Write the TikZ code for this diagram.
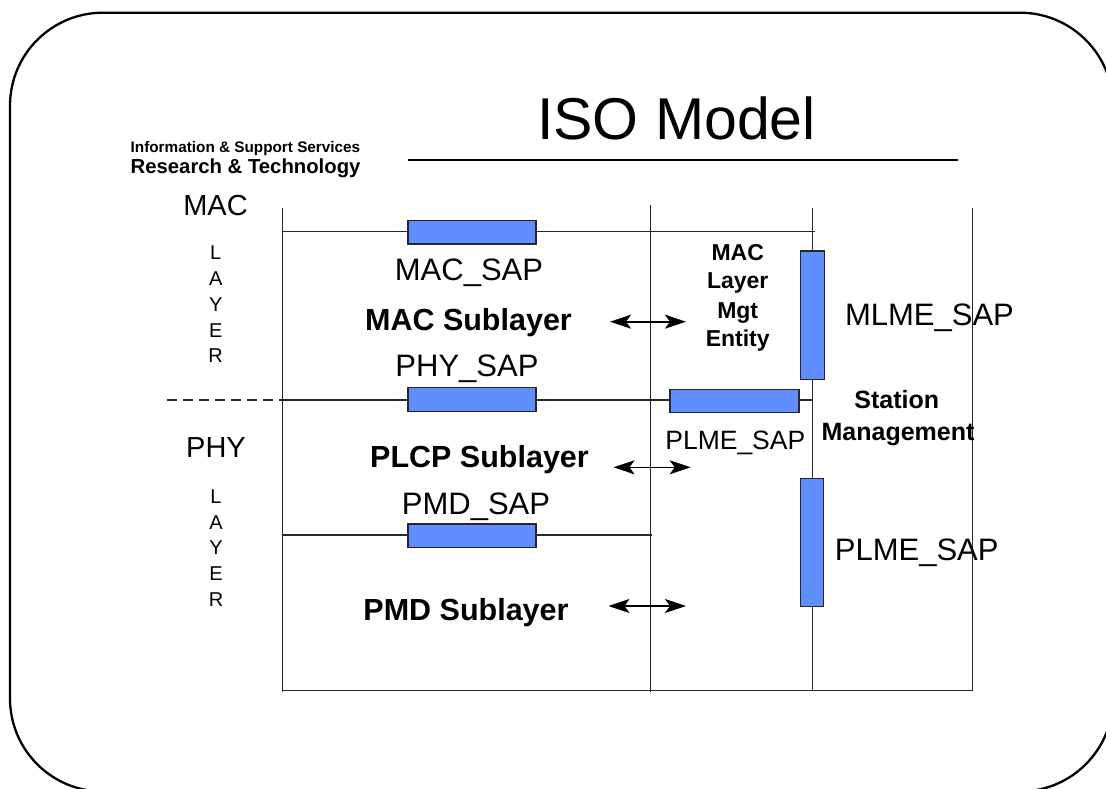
\documentclass[tikz,border=0pt]{standalone}
\usepackage{fontspec}
\setmainfont{Liberation Sans}
\usetikzlibrary{arrows.meta}
\definecolor{sapblue}{RGB}{97,142,255}
\definecolor{gridcol}{RGB}{40,40,40}
\begin{document}
\begin{tikzpicture}[x=1pt,y=-1pt,
  grid/.style={draw=gridcol,line width=1.1pt},
  sapbox/.style={draw=black!85,fill=sapblue,line width=1.2pt,inner sep=0pt},
  hsap/.style={sapbox,minimum width=128pt,minimum height=23.3pt},
  vsap/.style={sapbox,minimum width=23.5pt,minimum height=128.3pt},
  txt/.style={inner sep=0pt,anchor=base},
  lbl/.style={txt,font=\fontsize{31}{37}\selectfont},
  sublbl/.style={txt,font=\bfseries\fontsize{30.5}{36}\selectfont},
  layerlbl/.style={txt,font=\fontsize{29}{34}\selectfont},
  letter/.style={txt,font=\fontsize{20}{24}\selectfont},
  mgtlbl/.style={txt,font=\bfseries\fontsize{23}{28}\selectfont},
  stlbl/.style={txt,font=\bfseries\fontsize{25}{30}\selectfont},
  biarrow/.style={draw=black,line width=1.6pt,
    {Stealth[length=21pt,width=14pt,inset=5pt]}-{Stealth[length=21pt,width=14pt,inset=5pt]}}
]
\useasboundingbox (0,0) rectangle (1106,789);
\clip (0,0) rectangle (1106,789);

% outer frame
\draw[line width=2.3pt, rounded corners=93pt] (10,12.7) rectangle (1113,791.5);

% header
\node[txt, font=\fontsize{59}{70}\selectfont] (title) at (676.5,140) {ISO Model};
\draw[line width=2.2pt] (408,160) -- (958,160);
\node[txt, anchor=base west, font=\bfseries\fontsize{15.3}{18}\selectfont] (iss) at (130.5,152.7) {Information \& Support Services};
\node[txt, anchor=base west, font=\bfseries\fontsize{20.3}{24}\selectfont] (rt) at (130.5,173.3) {Research \& Technology};

% grid lines
\draw[grid] (282.3,208) -- (282.3,691.7);
\draw[grid] (650.7,205) -- (650.7,691.7);
\draw[grid] (812.7,208) -- (812.7,690.7);
\draw[grid] (972.3,208) -- (972.3,690.7);
\draw[grid] (282.3,231.7) -- (815,231.7);
\draw[grid] (282.3,400) -- (813,400);
\draw[grid, line width=1.6pt, dash pattern=on 10pt off 6pt] (167,400) -- (282.3,400);
\draw[grid] (282.3,535) -- (652,535);
\draw[grid] (282.3,690.7) -- (973,690.7);

% SAP boxes
\node[hsap] (macsapbox) at (472,232.4) {};
\node[hsap] (physapbox) at (472,399.5) {};
\node[hsap] (pmdsapbox) at (472,535.7) {};
\node[hsap, minimum width=129pt] (plmehbox) at (734.5,401) {};
\node[vsap] (mlmebox) at (812.5,315.2) {};
\node[vsap] (plmevbox) at (812,542.5) {};

% left layer labels
\node[layerlbl] (mac) at (215.5,215) {MAC};
\node[letter] (ml1) at (215.7,259.3) {L};
\node[letter] (ml2) at (215.7,285.2) {A};
\node[letter] (ml3) at (215.7,311.2) {Y};
\node[letter] (ml4) at (215.7,337.0) {E};
\node[letter] (ml5) at (215.7,362.7) {R};
\node[layerlbl] (phy) at (216,457.3) {PHY};
\node[letter] (pl1) at (216,503.3) {L};
\node[letter] (pl2) at (216,529.3) {A};
\node[letter] (pl3) at (216,554.8) {Y};
\node[letter] (pl4) at (216,580.5) {E};
\node[letter] (pl5) at (216,606.0) {R};

% middle column labels
\node[lbl] (macsap) at (469,280.7) {MAC\_SAP};
\node[sublbl] (macsub) at (468.5,330) {MAC Sublayer};
\node[lbl] (physap) at (467,376.7) {PHY\_SAP};
\node[sublbl] (plcpsub) at (479.5,467.7) {PLCP Sublayer};
\node[lbl] (pmdsap) at (476,514.3) {PMD\_SAP};
\node[sublbl] (pmdsub) at (466,620) {PMD Sublayer};

% management entity
\node[mgtlbl] (mg1) at (737.7,260) {MAC};
\node[mgtlbl] (mg2) at (737.7,288.6) {Layer};
\node[mgtlbl] (mg3) at (737.7,318.0) {Mgt};
\node[mgtlbl] (mg4) at (737.7,346.7) {Entity};
\node[txt, font=\fontsize{26.5}{32}\selectfont] (plmeh) at (735.3,449.3) {PLME\_SAP};

% right column labels
\node[lbl] (mlme) at (929.5,325) {MLME\_SAP};
\node[stlbl] (st1) at (896.7,408.3) {Station};
\node[stlbl] (st2) at (898,440.7) {Management};
\node[lbl] (plmev) at (916.7,560.7) {PLME\_SAP};

% arrows
\coordinate (a1l) at (610,321.7);
\coordinate (a1r) at (686,321.7);
\coordinate (a2l) at (613.5,467.3);
\coordinate (a2r) at (690.7,467.3);
\coordinate (a3l) at (608.5,606);
\coordinate (a3r) at (686,606);
\draw[biarrow] (a1l) -- (a1r);
\draw[biarrow] (a2l) -- (a2r);
\draw[biarrow] (a3l) -- (a3r);
\end{tikzpicture}
\end{document}
